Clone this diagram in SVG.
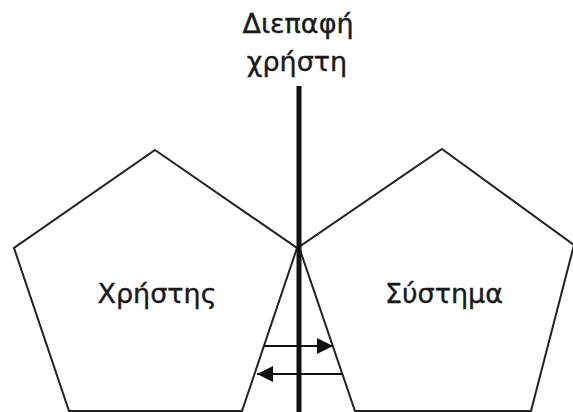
<svg xmlns="http://www.w3.org/2000/svg" width="573" height="412" viewBox="0 0 573 412">
  <style>
    .shape { fill: none; stroke: #222; stroke-width: 2; stroke-linejoin: miter; }
    .lbl { font-family: "DejaVu Sans", Verdana, sans-serif; font-size: 27px; fill: #1a1a1a; stroke: #1a1a1a; stroke-width: 0.4; text-anchor: middle; }
    .arr { stroke: #111; stroke-width: 2; fill: none; }
  </style>
  <defs>
    <marker id="ah" viewBox="0 0 16 16" refX="16" refY="8" markerWidth="16" markerHeight="16" markerUnits="userSpaceOnUse" orient="auto">
      <path d="M0,0 L16,8 L0,16 Z" fill="#111"/>
    </marker>
  </defs>
  <rect width="573" height="412" fill="#fff"/>
  <g id="user">
    <polygon class="shape" points="155,150 297,248 242,411 69,411 14,248"/>
    <text class="lbl" x="157" y="303">Χρήστης</text>
  </g>
  <g id="system">
    <polygon class="shape" points="442,149 574,245 531,411 355,411 299,247"/>
    <text class="lbl" x="444" y="303">Σύστημα</text>
  </g>
  <g id="interface">
    <line x1="299" y1="86" x2="299" y2="412" stroke="#111" stroke-width="5"/>
    <text class="lbl" x="298" y="33">Διεπαφή</text>
    <text class="lbl" x="297" y="71">χρήστη</text>
  </g>
  <g id="connectors">
    <line class="arr" x1="264" y1="346" x2="333" y2="346" marker-end="url(#ah)"/>
    <line class="arr" x1="343" y1="374" x2="257" y2="374" marker-end="url(#ah)"/>
  </g>
</svg>
